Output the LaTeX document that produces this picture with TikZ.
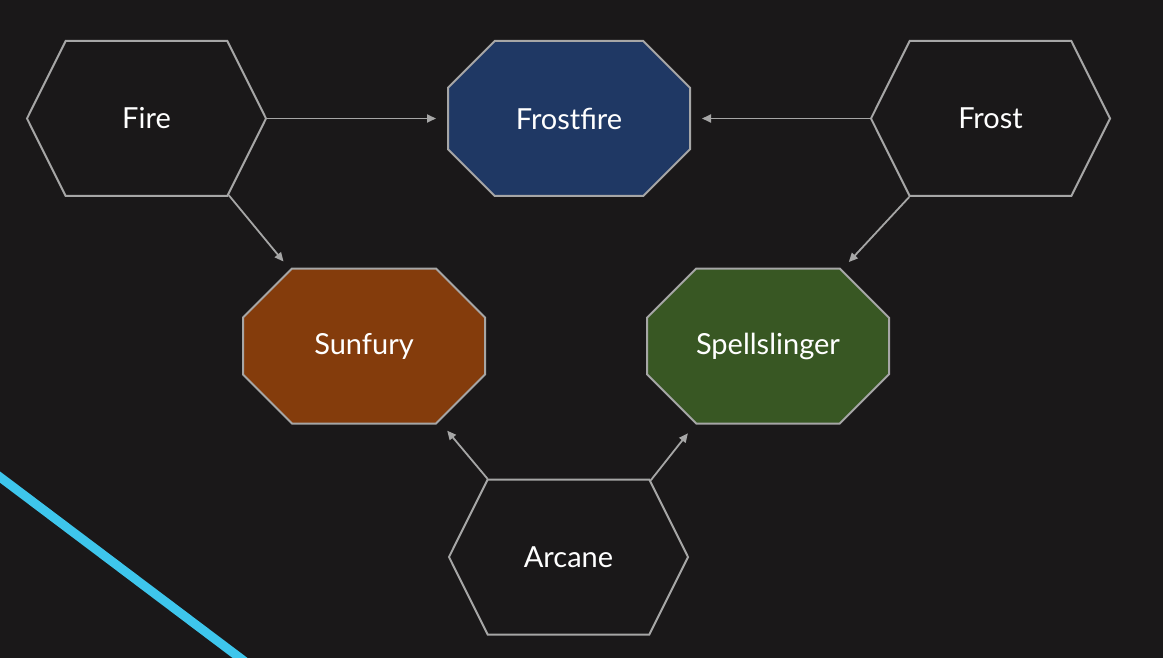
\documentclass[tikz,border=0pt]{standalone}
\usepackage{fontspec}
\setmainfont{Lato}
\usetikzlibrary{shapes.symbols,shapes.misc,arrows.meta}
\definecolor{bgdark}{HTML}{1A1819}
\definecolor{edgegray}{HTML}{A6A6A6}
\definecolor{frostblue}{HTML}{1F3864}
\definecolor{sunbrown}{HTML}{843C0C}
\definecolor{spellgreen}{HTML}{385723}
\definecolor{lineblue}{HTML}{3EC6EC}

\begin{document}
\begin{tikzpicture}[x=1pt,y=-1pt,
  school/.style={signal, signal to=west and east, signal pointer angle=127,
    draw=edgegray, line width=2pt, fill=bgdark, text=white, inner sep=0pt,
    minimum width=239pt, minimum height=155pt, font=\fontsize{29}{32}\selectfont},
  combo/.style={chamfered rectangle, chamfered rectangle xsep=46pt,
    chamfered rectangle ysep=36pt, draw=edgegray, line width=2pt, text=white,
    inner sep=0pt, minimum width=242pt, minimum height=155pt,
    font=\fontsize{29}{32}\selectfont},
  link/.style={draw=edgegray, line width=1.8pt, -{Triangle[length=9pt,width=8pt]}}]
\fill[bgdark] (0,0) rectangle (1163,658);
\useasboundingbox (0,0) rectangle (1163,658);
\begin{scope}
\clip (0,0) rectangle (1163,658);
\draw[lineblue, line width=9pt] (-20,462) -- (260,673);
\end{scope}

\node[school] (fire) at (146.5,118.5) {Fire};
\node[school] (frost) at (990.5,118.5) {Frost};
\node[school] (arcane) at (568.5,557) {Arcane};

\node[combo, fill=frostblue] (frostfire) at (569,118.5) {Frostfire};
\node[combo, fill=sunbrown] (sunfury) at (364,346) {Sunfury};
\node[combo, fill=spellgreen] (spellslinger) at (768,346) {Spellslinger};

\draw[link, shorten >=11pt] (fire.east) -- (frostfire.west);
\draw[link, shorten >=11pt] (frost.west) -- (frostfire.east);
\draw[link, shorten >=10pt] (fire.-43.4) -- (sunfury.134.2);
\draw[link, shorten >=10pt] (frost.-136.6) -- (spellslinger.46.1);
\draw[link, shorten >=12pt] (arcane.136.1) -- (sunfury.-45.8);
\draw[link, shorten >=12pt] (arcane.43.9) -- (spellslinger.-133.9);
\end{tikzpicture}
\end{document}
